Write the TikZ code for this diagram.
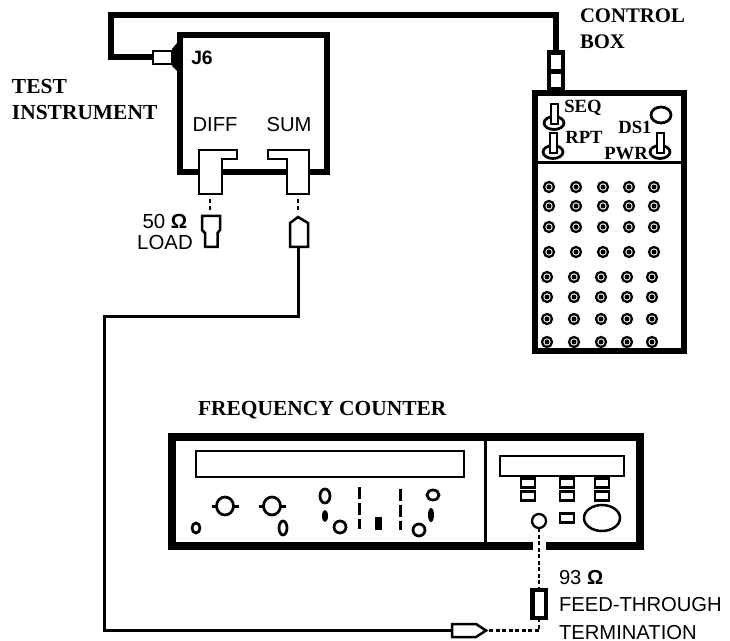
\documentclass[tikz,border=0pt]{standalone}
\usepackage{fontspec}
\setmainfont{Liberation Serif}
\setsansfont{Liberation Sans}
\definecolor{ink}{HTML}{000000}
\newcommand{\headfont}{\fontsize{11.8}{14.6}\selectfont\bfseries}
\newcommand{\widehead}{\fontsize{12.2}{14.8}\selectfont\bfseries}
\newcommand{\smallhead}{\fontsize{10.6}{12}\selectfont\bfseries}
\newcommand{\sansword}{\fontsize{11.5}{15.4}\selectfont\sffamily}
\tikzset{
 every node/.append style={text=ink,align=center,inner sep=0pt,outer sep=0pt},
 frame/.style={draw=ink,fill=white,line width=1.2mm,minimum width=2.94cm,minimum height=2.74cm},
 panel/.style={draw=ink,line width=.5mm},
 jack/.style={draw=ink,fill=white,line width=.5mm,line join=miter},
 cable/.style={draw=ink,line width=1.2mm},
 wire/.style={draw=ink,line width=.6mm},
 dots/.style={draw=ink,line width=.55mm,dash pattern=on .8mm off .5mm},
 leads/.style={draw=ink,line width=.5mm,dash pattern=on .8mm off .6mm},
 rule/.style={draw=ink,line width=.6mm},
 slots/.style={draw=ink,line width=.6mm,dash pattern=on 2.4mm off .8mm},
 knob/.style={draw=ink,fill=white,line width=.55mm},
 stud/.style={fill=ink},
 button/.style={panel,fill=white,minimum width=.28cm,minimum height=.18cm},
 terminal/.style={circle,draw=ink,line width=.45mm,minimum size=.2cm,
   path picture={\fill[ink] (path picture bounding box.center) circle (.05);}},
 head/.style={font=\headfont},
 tag/.style={font=\smallhead},
 word/.style={font=\sansword},
}
\newcommand{\toggle}[2]{
  \draw[knob] (#1,#2) ellipse (.2 and .13);
  \draw[knob,line width=.4mm] (#1-.07,#2-.03) -- (#1-.07,#2+.38) -- (#1+.07,#2+.38) -- (#1+.07,#2-.03) -- cycle;
}

\begin{document}
\begin{tikzpicture}

\useasboundingbox (0,0) rectangle (14.6,-12.82);

% test instrument
\node[frame] (instrument) at (5.07,-2.07) {};
\fill[ink] (3.44,-.98) -- (3.54,-.86) -- (3.54,-1.42) -- (3.44,-1.32) -- cycle;
\node[jack,minimum width=.38cm,minimum height=.27cm,line width=.4mm] (j6plug) at (3.25,-1.15) {};
\node[font=\fontsize{11}{12}\selectfont\sffamily\bfseries] (j6) at (4.04,-1.16) {J6};
\node[word] (diff) at (4.3,-2.5) {DIFF};
\node[word] (sum) at (5.78,-2.5) {SUM};
\node[font=\widehead,anchor=west,align=left] (testlabel) at (.24,-2) {TEST\\INSTRUMENT};

\draw[jack] (3.98,-3) -- (4.74,-3) -- (4.74,-3.18) -- (4.44,-3.18) -- (4.44,-3.88) -- (3.98,-3.88) -- cycle;
\draw[jack] (6.18,-3) -- (5.36,-3) -- (5.36,-3.18) -- (5.74,-3.18) -- (5.74,-3.88) -- (6.18,-3.88) -- cycle;
\coordinate (diffport) at (4.2,-3.88);
\coordinate (sumport) at (5.96,-3.88);
\coordinate (loadcap) at (4.2,-4.32);
\coordinate (sumtip) at (5.96,-4.34);
\coordinate (sumtail) at (5.96,-4.94);
\draw[jack] (4.04,-4.32) -- (4.4,-4.32) -- (4.4,-4.6) -- (4.35,-4.66) -- (4.35,-4.94) -- (4.1,-4.94) -- (4.1,-4.66) -- (4.04,-4.6) -- cycle;
\draw[jack] (5.8,-4.46) -- (sumtip) -- (6.16,-4.46) -- (6.16,-4.94) -- (5.8,-4.94) -- cycle;
\draw[leads,shorten <=.1cm,shorten >=.08cm] (diffport) -- (loadcap);
\draw[leads,shorten <=.1cm,shorten >=.08cm] (sumport) -- (sumtip);
\node[font=\fontsize{11.6}{12.5}\selectfont\sffamily] (loadlabel) at (3.3,-4.64) {50 \textbf{Ω}\\LOAD};

% control box
\node[frame,minimum width=2.98cm,minimum height=5.16cm] (control) at (12.19,-4.44) {};
\node[fill=ink,minimum width=.36cm,minimum height=.8cm] (cbplug) at (11.11,-1.4) {};
\node[fill=white,minimum width=.2cm,minimum height=.28cm] (cbupper) at (11.11,-1.24) {};
\node[fill=white,minimum width=.2cm,minimum height=.26cm] (cblower) at (11.11,-1.61) {};
\node[head,anchor=west,align=left] (controllabel) at (11.6,-.57) {CONTROL\\BOX};
\draw[rule] (10.7,-3.26) -- (13.68,-3.26);
\toggle{11.08}{-2.46}
\toggle{11.06}{-3.04}
\toggle{13.2}{-3.04}
\draw[knob] (13.22,-2.3) ellipse (.2 and .16);
\node[tag] (seq) at (11.66,-2.16) {SEQ};
\node[tag] (rpt) at (11.68,-2.74) {RPT};
\node[tag] (ds1) at (12.7,-2.54) {DS1};
\node[tag] (pwr) at (12.52,-3.08) {PWR};

\foreach \rowy/\rowx in {3.74/10.98,4.12/10.98,4.54/10.98,5.04/10.98,5.54/10.94,5.94/10.94,6.38/10.94,6.84/10.94}
  \foreach \dx [count=\col] in {0,.54,1.08,1.6,2.1}
    \node[terminal] (t\rowy-\col) at (\rowx+\dx,-\rowy) {};
\draw[ink,line width=1.2mm] (control.south west) -- (control.south east);

% counter
\node[font=\widehead,anchor=west] (counterlabel) at (3.96,-8.2) {FREQUENCY COUNTER};
\node[draw=ink,line width=1.6mm,minimum width=9.36cm,minimum height=2.18cm] (counter) at (8.12,-9.83) {};
\fill[white] (10.66,-10.8) rectangle (10.92,-11.04);
\draw[rule] (9.71,-8.74) -- (9.71,-10.92);
\node[panel,minimum width=5.36cm,minimum height=.52cm] (maindisplay) at (6.6,-9.28) {};
\node[panel,minimum width=2.48cm,minimum height=.4cm] (sidedisplay) at (11.24,-9.32) {};
\foreach \bx in {10.56,11.34,12.04}
  \foreach \by in {9.66,9.92}
    \node[button] (b\bx-\by) at (\bx,-\by) {};
\node[button] (bottombutton) at (11.34,-10.36) {};
\draw[panel] (12.04,-10.36) ellipse (.36 and .26);

\foreach \kx in {4.5,5.44} {
  \draw[ink,line width=.6mm] (\kx-.27,-10.12) -- (\kx+.27,-10.12);
  \draw[knob] (\kx,-10.12) ellipse (.17 and .18);
}
\draw[knob] (3.92,-10.56) ellipse (.08 and .1);
\draw[knob] (5.66,-10.56) ellipse (.08 and .14);
\draw[knob] (6.5,-9.92) ellipse (.1 and .14);
\fill[stud] (6.5,-10.32) ellipse (.06 and .12);
\draw[knob] (6.8,-10.54) circle (.12);
\draw[slots] (7.18,-9.74) -- (7.18,-10.58);
\fill[stud] (7.49,-10.6) rectangle (7.63,-10.34);
\draw[slots] (8,-9.78) -- (8,-10.6);
\draw[knob] (8.66,-9.9) ellipse (.12 and .1);
\fill[stud] (8.62,-10.3) ellipse (.06 and .14);
\draw[knob] (8.38,-10.6) circle (.12);

% leads to the counter
\node[draw=ink,circle,line width=.45mm,minimum size=.28cm] (inputjack) at (10.78,-10.42) {};
\node[draw=ink,line width=.9mm,minimum width=.27cm,minimum height=.56cm] (feedthru) at (10.78,-12.08) {};
\coordinate (bnctail) at (9.04,-12.61);
\coordinate (bnctip) at (9.72,-12.61);
\draw[jack] (bnctail) -- (9.04,-12.48) -- (9.52,-12.48) -- (bnctip) -- (9.52,-12.74) -- (9.04,-12.74) -- cycle;
\draw[dots] (inputjack.south) -- (feedthru.north);
\draw[dots] (feedthru.south) |- (bnctip);
\node[font=\sansword,anchor=west,align=left] (feedlabel) at (11.18,-12.1) {93 \textbf{Ω}\\FEED-THROUGH\\TERMINATION};

% cables
\coordinate (cabletop) at (2.22,-.3);
\coordinate (sumbend) at (2.08,-6.34);
\draw[cable] (j6plug.west) -| (cabletop) -| (cbplug.north);
\draw[wire] (sumtail) |- (sumbend) |- (bnctail);

\end{tikzpicture}
\end{document}
